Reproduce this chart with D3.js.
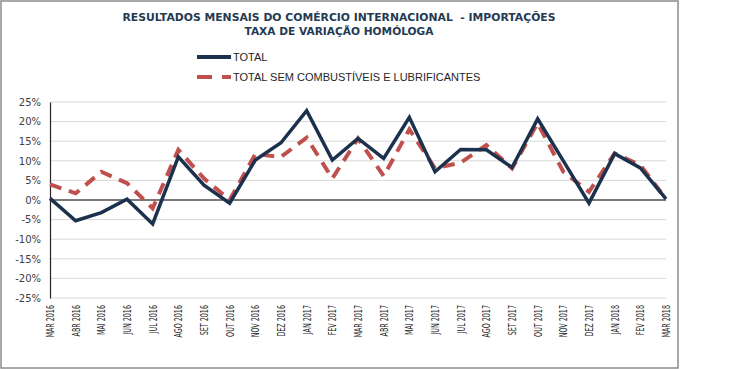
<!DOCTYPE html>
<html>
<head>
<meta charset="utf-8">
<script src="https://cdn.jsdelivr.net/npm/d3@7"></script>
<style>
  body { margin: 0; background: #fff; }
  svg { display: block; }
</style>
</head>
<body>
<div class="chart"></div>
<script>
const months = ["MAR 2016","ABR 2016","MAI 2016","JUN 2016","JUL 2016","AGO 2016","SET 2016","OUT 2016","NOV 2016","DEZ 2016","JAN 2017","FEV 2017","MAR 2017","ABR 2017","MAI 2017","JUN 2017","JUL 2017","AGO 2017","SET 2017","OUT 2017","NOV 2017","DEZ 2017","JAN 2018","FEV 2018","MAR 2018"];
const total = [0.4,-5.3,-3.2,0.2,-6.1,11.0,3.8,-0.8,10.2,14.6,22.8,10.2,15.7,10.6,21.1,7.2,12.9,12.8,8.3,20.7,10.0,-0.8,11.8,8.2,0.3];
const semComb = [4.0,1.7,7.2,4.3,-2.1,12.8,5.5,0.0,11.7,11.0,15.9,5.5,15.7,6.1,18.0,8.1,9.5,14.0,8.1,19.6,7.2,2.1,11.9,8.9,0.3];
const yTicks = [-25,-20,-15,-10,-5,0,5,10,15,20,25];
const title = ["RESULTADOS MENSAIS DO COMÉRCIO INTERNACIONAL  - IMPORTAÇÕES", "TAXA DE VARIAÇÃO HOMÓLOGA"];
const titleWidths = [433, 189];
const legendNames = ["TOTAL", "TOTAL SEM COMBUSTÍVEIS E LUBRIFICANTES"];

const W = 750, H = 369;
const navy = "#1c314d", red = "#c0504d";

const svg = d3.select(".chart").append("svg")
  .attr("width", W).attr("height", H);

// frame
svg.append("rect")
  .attr("x", 1).attr("y", 1).attr("width", 677).attr("height", 367)
  .attr("fill", "none").attr("stroke", "#8c8c8c").attr("stroke-width", 1.5);

const x = d3.scalePoint().domain(months).range([50, 666]);
const y = d3.scaleLinear().domain([-25, 25]).range([298, 102]);

// title
svg.append("g").selectAll("text")
  .data(title).enter().append("text")
  .attr("x", 339).attr("y", (d, i) => 21 + i * 13.5)
  .attr("text-anchor", "middle")
  .attr("textLength", (d, i) => titleWidths[i])
  .attr("lengthAdjust", "spacingAndGlyphs")
  .style("white-space", "pre")
  .attr("font-family", "DejaVu Sans, Verdana, sans-serif")
  .attr("font-weight", "bold").attr("font-size", 10.5)
  .attr("fill", "#253a52")
  .text(d => d);

// gridlines
svg.append("g").selectAll("line")
  .data(yTicks.filter(d => d !== 0)).enter().append("line")
  .attr("x1", 50).attr("x2", 666)
  .attr("y1", d => y(d)).attr("y2", d => y(d))
  .attr("stroke", "#d9d9d9").attr("stroke-width", 1);

// y axis
const yAxis = svg.append("g")
  .attr("transform", "translate(50,0)")
  .call(d3.axisLeft(y).tickValues(yTicks).tickSize(0).tickPadding(9).tickFormat(d => d + "%"));
yAxis.select(".domain").attr("stroke", "#262626").attr("stroke-width", 1.2);
yAxis.selectAll("text")
  .attr("font-family", "DejaVu Sans, Verdana, sans-serif")
  .attr("font-size", 10).attr("fill", "#404040");

// zero line
svg.append("line")
  .attr("x1", 50).attr("x2", 666)
  .attr("y1", y(0)).attr("y2", y(0))
  .attr("stroke", "#7a7a7a").attr("stroke-width", 2);

// x labels
svg.append("g").selectAll("text")
  .data(months).enter().append("text")
  .attr("transform", d => "translate(" + (x(d) + 4) + ",305) rotate(-90) scale(0.64,1)")
  .attr("text-anchor", "end")
  .attr("font-family", "DejaVu Sans, Verdana, sans-serif")
  .attr("font-size", 10).attr("fill", "#262626")
  .text(d => d);

const line = d3.line().x((d, i) => x(months[i])).y(d => y(d));

svg.append("path").datum(semComb)
  .attr("d", line).attr("fill", "none")
  .attr("stroke", red).attr("stroke-width", 4)
  .attr("stroke-dasharray", "12,8");

svg.append("path").datum(total)
  .attr("d", line).attr("fill", "none")
  .attr("stroke", navy).attr("stroke-width", 3.5)
  .attr("stroke-linejoin", "miter");

// legend
const leg = svg.append("g");
leg.append("line")
  .attr("x1", 197).attr("x2", 231).attr("y1", 57).attr("y2", 57)
  .attr("stroke", navy).attr("stroke-width", 4);
leg.append("line")
  .attr("x1", 197).attr("x2", 231).attr("y1", 77).attr("y2", 77)
  .attr("stroke", red).attr("stroke-width", 4)
  .attr("stroke-dasharray", "15,10");
leg.selectAll("text")
  .data(legendNames).enter().append("text")
  .attr("x", 233).attr("y", (d, i) => 61 + i * 20)
  .attr("font-family", "Liberation Sans, Arial, sans-serif")
  .attr("font-size", 11).attr("fill", "#262626")
  .text(d => d);
</script>
</body>
</html>
